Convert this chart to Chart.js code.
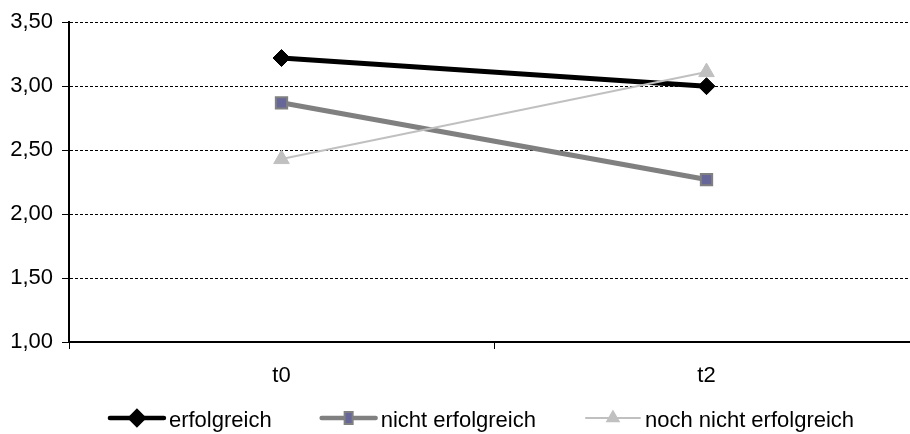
<!DOCTYPE html>
<html>
<head>
<meta charset="utf-8">
<script src="https://cdn.jsdelivr.net/npm/chart.js@4/dist/chart.umd.min.js"></script>
<style>
  html, body { margin: 0; padding: 0; background: #fff; overflow: hidden; width: 910px; height: 434px; }
  canvas { display: block; }
</style>
</head>
<body>
<canvas id="chart" width="930" height="434"></canvas>
<script>
// Zeitpunkte und Mittelwerte je Gruppe
const categories = ['t0', 't2'];
const seriesNames = ['erfolgreich', 'nicht erfolgreich', 'noch nicht erfolgreich'];
const erfolgreich = [3.22, 3.00];
const nichtErfolgreich = [2.87, 2.27];
const nochNichtErfolgreich = [2.43, 3.11];
const yMin = 1.0;
const yMax = 3.5;
const yStep = 0.5;

const FONT = '"Liberation Sans", Arial, Helvetica, sans-serif';
Chart.defaults.font.family = FONT;
Chart.defaults.font.size = 22;
Chart.defaults.color = '#000';

// Legend drawn below the plot: line segment with marker, then label
const lineLegend = {
  id: 'lineLegend',
  afterDraw(chart) {
    const ctx = chart.ctx;
    ctx.save();
    ctx.font = '22px ' + FONT;
    const lineLen = 58, gapText = 3, gapItem = 48;
    const centerX = 481, lineY = 418, textY = 427;
    const items = chart.data.datasets.map(ds => ({ ds, w: ctx.measureText(ds.label).width }));
    const total = items.reduce((s, it) => s + lineLen + gapText + it.w, 0) + gapItem * (items.length - 1);
    let x = centerX - total / 2;
    items.forEach(it => {
      const ds = it.ds;
      ctx.beginPath();
      ctx.strokeStyle = ds.borderColor;
      ctx.lineWidth = Math.min(ds.borderWidth, 4.5);
      ctx.lineCap = 'round';
      ctx.moveTo(x + 2, lineY);
      ctx.lineTo(x + lineLen - 2, lineY);
      ctx.stroke();
      const mx = x + lineLen / 2;
      ctx.fillStyle = ds.pointBackgroundColor;
      ctx.strokeStyle = ds.pointBorderColor;
      if (ds.pointStyle === 'rect') {
        ctx.lineWidth = 2;
        ctx.fillRect(mx - 4, lineY - 6, 8, 12);
        ctx.strokeRect(mx - 4, lineY - 6, 8, 12);
      } else {
        Chart.helpers.drawPoint(ctx, {
          pointStyle: ds.pointStyle,
          radius: ds.pointStyle === 'triangle' ? 6.5 : 6.5,
          borderWidth: 1,
          rotation: 0
        }, mx, lineY);
      }
      ctx.fillStyle = '#000';
      ctx.textBaseline = 'alphabetic';
      ctx.textAlign = 'left';
      ctx.fillText(ds.label, x + lineLen + gapText, textY);
      x += lineLen + gapText + it.w + gapItem;
    });
    ctx.restore();
  }
};

new Chart(document.getElementById('chart'), {
  type: 'line',
  data: {
    labels: categories,
    datasets: [
      {
        label: seriesNames[0],
        data: erfolgreich,
        borderColor: '#000000',
        borderWidth: 5,
        pointStyle: 'rectRot',
        pointRadius: 8.5,
        pointBackgroundColor: '#000000',
        pointBorderColor: '#000000',
        pointBorderWidth: 1,
        tension: 0,
        order: 3
      },
      {
        label: seriesNames[1],
        data: nichtErfolgreich,
        borderColor: '#808080',
        borderWidth: 5,
        pointStyle: 'rect',
        pointRadius: 8,
        pointBackgroundColor: '#666699',
        pointBorderColor: '#808080',
        pointBorderWidth: 2,
        tension: 0,
        order: 2
      },
      {
        label: seriesNames[2],
        data: nochNichtErfolgreich,
        borderColor: '#c0c0c0',
        borderWidth: 2,
        pointStyle: 'triangle',
        pointRadius: 9,
        pointBackgroundColor: '#c0c0c0',
        pointBorderColor: '#c0c0c0',
        pointBorderWidth: 1,
        tension: 0,
        order: 1
      }
    ]
  },
  options: {
    responsive: false,
    animation: false,
    events: [],
    layout: { padding: { top: 21, right: 11, left: 0, bottom: 0 } },
    plugins: { legend: { display: false }, tooltip: { enabled: false } },
    scales: {
      x: {
        offset: true,
        grid: {
          offset: true,
          drawOnChartArea: false,
          drawTicks: true,
          tickLength: 7,
          tickColor: '#000',
          tickWidth: 1
        },
        border: { display: true, color: '#000', width: 2 },
        ticks: { padding: 14, font: { size: 22 }, color: '#000' },
        afterFit(scale) { scale.height = 92; }
      },
      y: {
        min: yMin,
        max: yMax,
        grid: {
          color: '#000',
          lineWidth: 1,
          drawTicks: true,
          tickLength: 7,
          tickColor: '#000',
          tickWidth: 1,
          tickBorderDash: []
        },
        border: { display: true, color: '#000', width: 2, dash: [3, 2] },
        ticks: {
          stepSize: yStep,
          padding: 9,
          font: { size: 22 },
          color: '#000',
          callback: v => v.toFixed(2).replace('.', ',')
        },
        afterFit(scale) { scale.width = 69; }
      }
    }
  },
  plugins: [lineLegend]
});
</script>
</body>
</html>
